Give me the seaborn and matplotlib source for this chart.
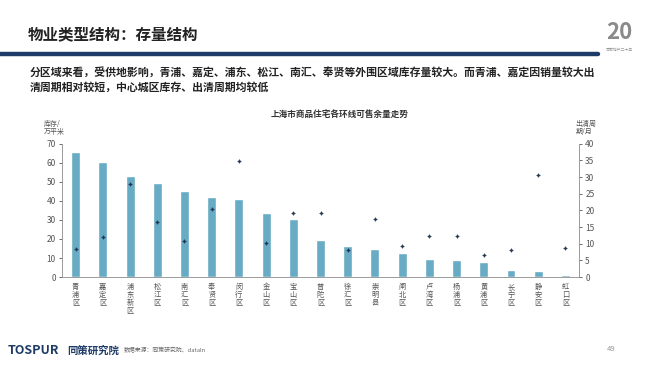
import matplotlib
matplotlib.use("Agg")
import matplotlib.pyplot as plt
import numpy as np
import pandas as pd
import seaborn as sns

# 区域 / 库存(万平米) / 出清周期(月)
districts = ["青浦区", "嘉定区", "浦东新区", "松江区", "南汇区", "奉贤区", "闵行区",
             "金山区", "宝山区", "普陀区", "徐汇区", "崇明县", "闸北区", "卢湾区",
             "杨浦区", "黄浦区", "长宁区", "静安区", "虹口区"]
stock = [65.8, 60.4, 53.3, 49.3, 45.0, 42.2, 41.0, 33.5, 30.7, 19.7,
         16.5, 14.7, 12.6, 9.6, 9.2, 7.8, 3.9, 3.4, 1.1]
cycle = [8.5, 12.0, 27.9, 16.4, 10.8, 20.5, 34.8, 10.3, 19.1, 19.1,
         8.2, 17.4, 9.4, 12.2, 12.2, 6.6, 8.1, 30.6, 8.6]
left_ticks = [0, 10, 20, 30, 40, 50, 60, 70]
right_ticks = [0, 5, 10, 15, 20, 25, 30, 35, 40]

df = pd.DataFrame({"district": districts, "stock": stock, "cycle": cycle})
df["pos"] = range(len(df))

sns.set_theme(style="white")
plt.rcParams["font.family"] = ["Noto Sans CJK SC", "DejaVu Sans"]

navy = "#1e3a66"
bar_color = "#68abc4"
grey = "#555555"

fig = plt.figure(figsize=(6.5, 3.65), dpi=100)
fig.patch.set_facecolor("white")

# header
fig.text(0.043, 0.907, "物业类型结构：存量结构", fontsize=11.2, fontweight="bold",
         color="#222222", va="center")
fig.add_artist(plt.Line2D([0, 0.92], [0.853, 0.853], color=navy, lw=3.2))
fig.text(0.952, 0.912, "20", fontsize=16, fontweight="bold", color="#8a8a8a",
         ha="center", va="center")
fig.text(0.952, 0.862, "同策地产二十年", fontsize=2.8, color="#999999",
         ha="center", va="center")
fig.text(0.045, 0.802, "分区域来看，受供地影响，青浦、嘉定、浦东、松江、南汇、奉贤等外围区域库存量较大。而青浦、嘉定因销量较大出",
         fontsize=7.85, fontweight="bold", color="#222222", va="center")
fig.text(0.045, 0.76, "清周期相对较短，中心城区库存、出清周期均较低",
         fontsize=7.85, fontweight="bold", color="#222222", va="center")

# chart
ax = fig.add_axes([0.0954, 0.241, 0.7954, 0.365])
sns.barplot(data=df, x="pos", y="stock", color=bar_color, width=0.33,
            saturation=1, ax=ax, native_scale=True)
ax.set_xlim(-0.5, len(df) - 0.5)
ax.set_ylim(0, 70)
ax.set_yticks(left_ticks)
ax.set_xticks(df["pos"])
ax.set_xticklabels(["\n".join(d) for d in districts], fontsize=5.2, color=grey,
                   linespacing=1.0, va="top")
ax.set_xlabel("")
ax.set_ylabel("")
ax.tick_params(axis="y", labelsize=6, colors=grey, length=2.5, width=0.6, pad=2, left=True)
ax.tick_params(axis="x", length=0, pad=4)
for s in ["top", "right"]:
    ax.spines[s].set_visible(False)
for s in ["left", "bottom"]:
    ax.spines[s].set_color("#9a9a9a")
    ax.spines[s].set_linewidth(0.7)

ax2 = ax.twinx()
sns.scatterplot(data=df, x="pos", y="cycle", ax=ax2, marker=(4, 1, 0), s=7,
                color="#1f3550", edgecolor="#1f3550", linewidth=0.4, zorder=3)
ax2.set_ylim(0, 40)
ax2.set_yticks(right_ticks)
ax2.set_xlim(-0.5, len(df) - 0.5)
ax2.set_ylabel("")
ax2.tick_params(axis="y", labelsize=6, colors=grey, length=2.5, width=0.6, pad=2, right=True)
for s in ["top", "left", "bottom"]:
    ax2.spines[s].set_visible(False)
ax2.spines["right"].set_color("#9a9a9a")
ax2.spines["right"].set_linewidth(0.7)

fig.text(0.523, 0.686, "上海市商品住宅各环线可售余量走势", fontsize=6.2, fontweight="bold",
         color="#333333", ha="center", va="center")
fig.text(0.068, 0.627, "库存/\n万平米", fontsize=5, color=grey, ha="left", va="bottom",
         linespacing=1.1)
fig.text(0.885, 0.627, "出清周\n期/月", fontsize=5, color=grey, ha="left", va="bottom",
         linespacing=1.1)

# footer
fig.text(0.012, 0.04, "TOSPUR", fontsize=9, fontweight="bold", style="italic",
         color=navy, va="center")
fig.text(0.104, 0.04, "同策研究院", fontsize=7.5, fontweight="bold", style="italic",
         color=navy, va="center")
fig.text(0.19, 0.04, "数据来源：同策研究院、dataln", fontsize=4.2, color="#666666",
         va="center")
fig.text(0.94, 0.045, "49", fontsize=5.5, color="#999999", ha="center", va="center")

fig.savefig("out.png", dpi=100)
